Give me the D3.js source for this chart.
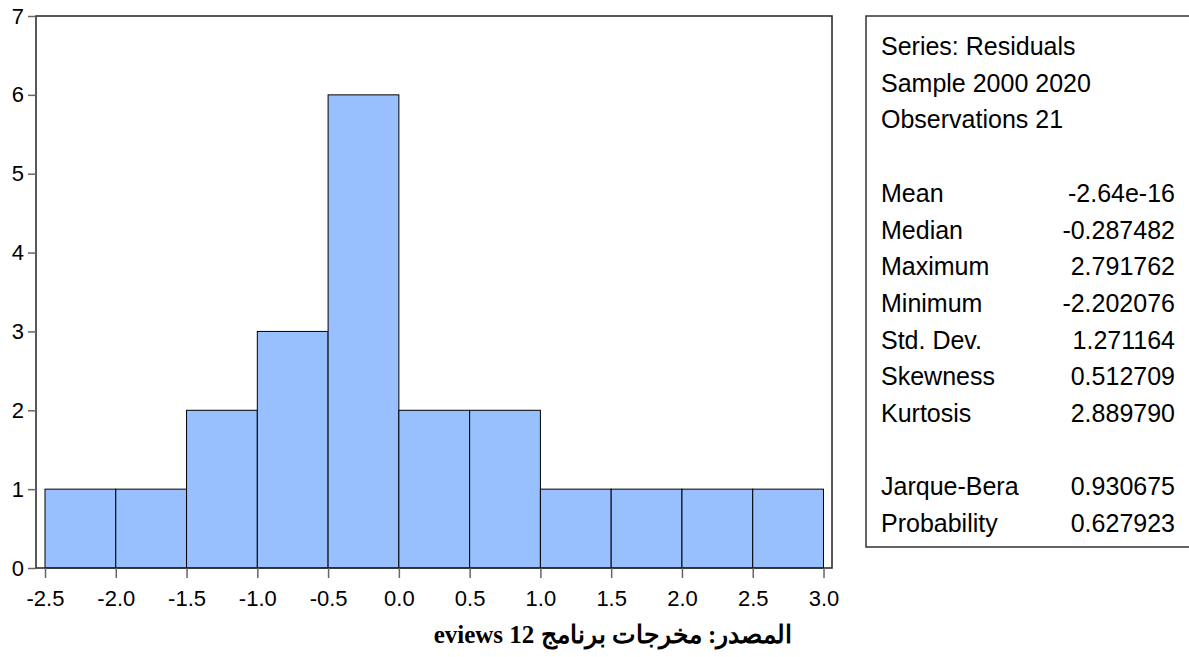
<!DOCTYPE html>
<meta charset="utf-8">
<script src="https://d3js.org/d3.v7.min.js"></script>
<style>
  body { margin: 0; background: #fff; }
  text { font-family: "Liberation Sans", Arial, sans-serif; fill: #000; }
</style>
<div id="chart"></div>
<script>
// histogram bins (edges) and counts
var binStarts = [-2.5, -2.0, -1.5, -1.0, -0.5, 0.0, 0.5, 1.0, 1.5, 2.0, 2.5];
var binWidth = 0.5;
var counts = [1, 1, 2, 3, 6, 2, 2, 1, 1, 1, 1];
var xTicks = [-2.5, -2.0, -1.5, -1.0, -0.5, 0.0, 0.5, 1.0, 1.5, 2.0, 2.5, 3.0];
var yTicks = [0, 1, 2, 3, 4, 5, 6, 7];

// statistics panel
var headerLines = ["Series: Residuals", "Sample 2000 2020", "Observations 21"];
var statNames = ["Mean", "Median", "Maximum", "Minimum", "Std. Dev.", "Skewness", "Kurtosis"];
var statValues = ["-2.64e-16", "-0.287482", "2.791762", "-2.202076", "1.271164", "0.512709", "2.889790"];
var testNames = ["Jarque-Bera", "Probability"];
var testValues = ["0.930675", "0.627923"];

var caption = "المصدر: مخرجات برنامج eviews 12";

var W = 1189, H = 657;
var svg = d3.select("#chart").append("svg")
  .attr("width", W).attr("height", H);

// plot frame
var frame = {left: 36, top: 16, right: 832, bottom: 568};

var x = d3.scaleLinear().domain([-2.5, 3.0]).range([45, 823.5]);
var y = d3.scaleLinear().domain([0, 7]).range([frame.bottom, frame.top]);

// bars
svg.append("g")
  .selectAll("rect")
  .data(counts)
  .enter().append("rect")
    .attr("x", function(d, i) { return x(binStarts[i]); })
    .attr("y", function(d) { return y(d); })
    .attr("width", function(d, i) { return x(binStarts[i] + binWidth) - x(binStarts[i]); })
    .attr("height", function(d) { return y(0) - y(d); })
    .attr("fill", "#98bffe")
    .attr("stroke", "#000")
    .attr("stroke-width", 1);

// frame box
svg.append("rect")
  .attr("x", frame.left).attr("y", frame.top)
  .attr("width", frame.right - frame.left)
  .attr("height", frame.bottom - frame.top)
  .attr("fill", "none")
  .attr("stroke", "#222")
  .attr("stroke-width", 1.5);

// y axis
var yAxis = svg.append("g")
  .attr("transform", "translate(" + frame.left + ",0)")
  .call(d3.axisLeft(y).tickValues(yTicks).tickSize(8).tickPadding(4)
    .tickFormat(function(d) { return String(d); }));
yAxis.select(".domain").remove();
yAxis.selectAll("line").attr("stroke", "#666").attr("stroke-width", 1.5);
yAxis.selectAll("text").attr("font-size", 22).attr("font-family", "Liberation Sans");

// x axis
var xAxis = svg.append("g")
  .attr("transform", "translate(0," + frame.bottom + ")")
  .call(d3.axisBottom(x).tickValues(xTicks).tickSize(10).tickPadding(12)
    .tickFormat(function(d) { return d.toFixed(1); }));
xAxis.select(".domain").remove();
xAxis.selectAll("line").attr("stroke", "#666").attr("stroke-width", 1.5);
xAxis.selectAll("text").attr("font-size", 22).attr("font-family", "Liberation Sans");

// statistics box
svg.append("rect")
  .attr("x", 866).attr("y", 16)
  .attr("width", 400).attr("height", 531)
  .attr("fill", "#fff")
  .attr("stroke", "#333")
  .attr("stroke-width", 1.5);

var rows = [];
headerLines.forEach(function(t) { rows.push({name: t, value: ""}); });
rows.push(null);
statNames.forEach(function(t, i) { rows.push({name: t, value: statValues[i]}); });
rows.push(null);
testNames.forEach(function(t, i) { rows.push({name: t, value: testValues[i]}); });

var rowStep = 36.7;
rows.forEach(function(r, k) {
  if (!r) return;
  var by = 55 + k * rowStep;
  svg.append("text").attr("x", 881).attr("y", by)
    .attr("font-size", 25).text(r.name);
  if (r.value) {
    svg.append("text").attr("x", 1175).attr("y", by)
      .attr("font-size", 25).attr("text-anchor", "end").text(r.value);
  }
});

// source caption
svg.append("text")
  .attr("x", 613).attr("y", 643)
  .attr("text-anchor", "middle")
  .attr("direction", "rtl")
  .style("font-family", "'Liberation Serif', 'DejaVu Serif', serif")
  .style("font-weight", "bold")
  .attr("font-size", 25)
  .text(caption);
</script>
